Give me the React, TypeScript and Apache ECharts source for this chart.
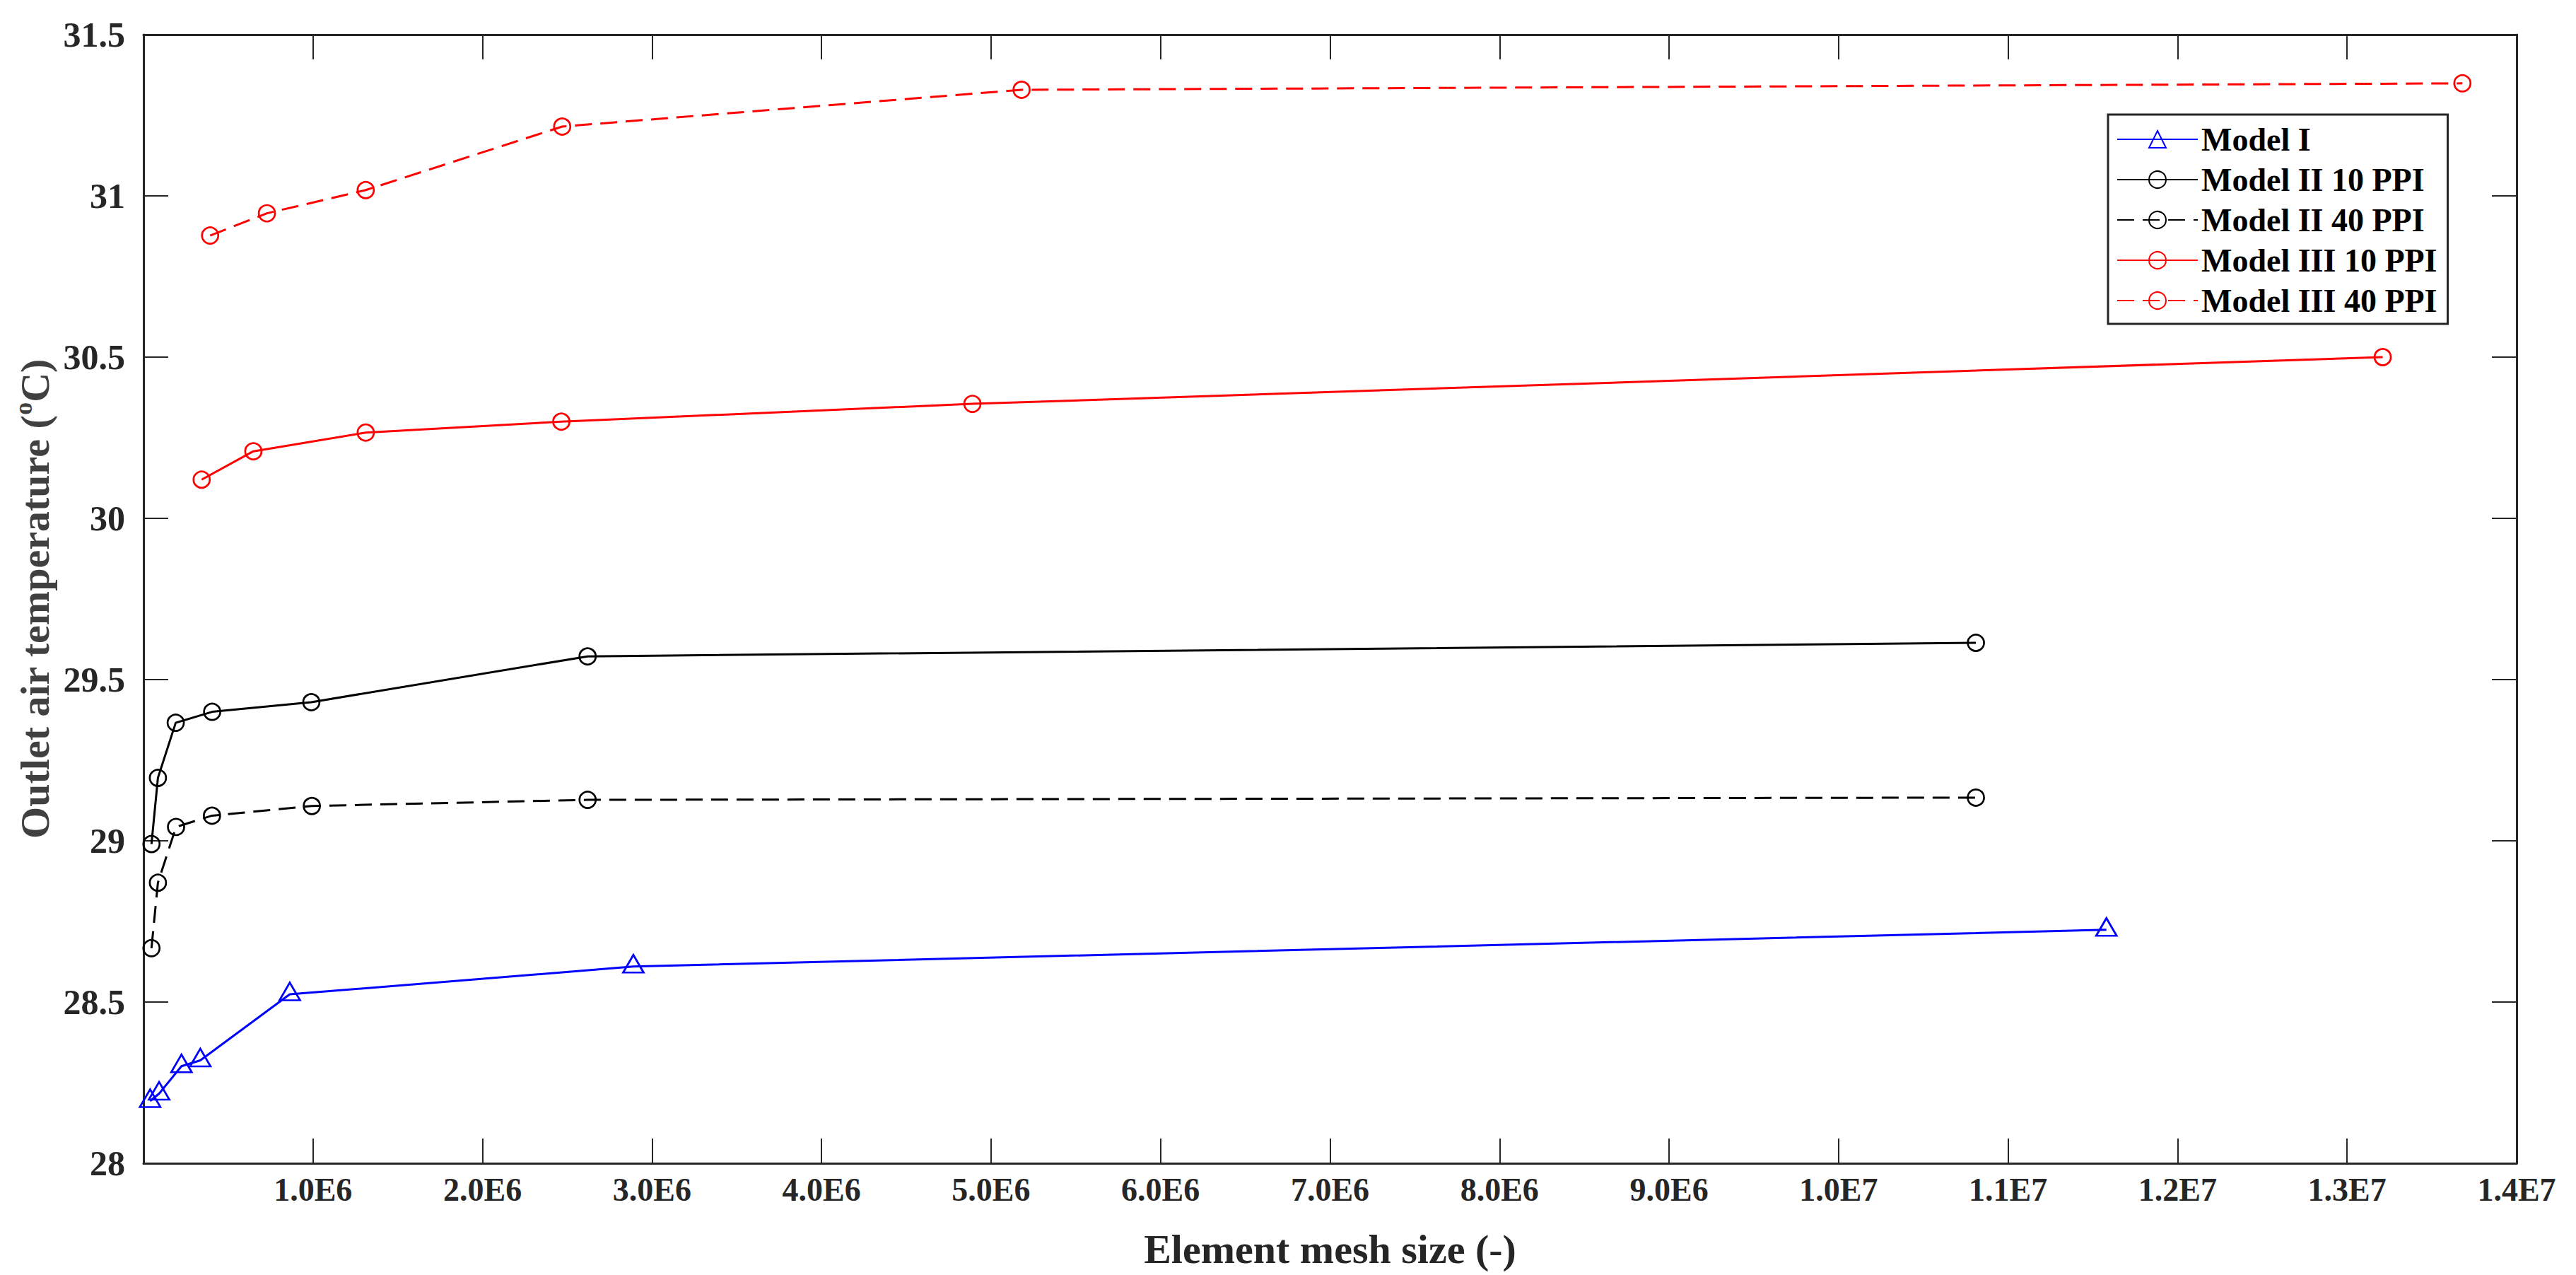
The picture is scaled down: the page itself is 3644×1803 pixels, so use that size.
import React, { useEffect, useRef } from "react";
import * as echarts from "echarts";

// ---- Data ----
const seriesNames = [
  "Model I",
  "Model II 10 PPI",
  "Model II 40 PPI",
  "Model III 10 PPI",
  "Model III 40 PPI",
];

const modelIX = [39000, 92000, 224000, 335000, 863000, 2890000, 11580000];
const modelIY = [28.193, 28.216, 28.301, 28.319, 28.524, 28.61, 28.724];

const modelII10X = [47000, 85000, 190000, 405000, 990000, 2620000, 10810000];
const modelII10Y = [28.99, 29.195, 29.366, 29.4, 29.43, 29.572, 29.614];

const modelII40X = [47000, 85000, 192000, 404000, 993000, 2620000, 10810000];
const modelII40Y = [28.667, 28.87, 29.043, 29.078, 29.108, 29.127, 29.134];

const modelIII10X = [343000, 648000, 1311000, 2465000, 4890000, 13210000];
const modelIII10Y = [30.12, 30.208, 30.266, 30.3, 30.355, 30.5];

const modelIII40X = [393000, 728000, 1311000, 2470000, 5180000, 13680000];
const modelIII40Y = [30.877, 30.946, 31.018, 31.215, 31.329, 31.349];

const xTickLabels = [
  "",
  "1.0E6",
  "2.0E6",
  "3.0E6",
  "4.0E6",
  "5.0E6",
  "6.0E6",
  "7.0E6",
  "8.0E6",
  "9.0E6",
  "1.0E7",
  "1.1E7",
  "1.2E7",
  "1.3E7",
  "1.4E7",
];
const yTickLabels = ["28", "28.5", "29", "29.5", "30", "30.5", "31", "31.5"];

const FONT = "'Liberation Serif', 'Times New Roman', serif";
const AXIS_COLOR = "#262626";

const zip = (xs: number[], ys: number[]) => xs.map((x, i) => [x, ys[i]]);

const lineSeries = (
  name: string,
  xs: number[],
  ys: number[],
  color: string,
  dashed: boolean,
  triangle: boolean
) => ({
  name,
  type: "line",
  data: zip(xs, ys),
  showSymbol: true,
  showAllSymbol: true,
  symbol: triangle ? "triangle" : "circle",
  symbolSize: triangle ? [29, 25] : 23,
  symbolOffset: triangle ? [0, -4] : [0, 0],
  lineStyle: {
    color,
    width: 3,
    type: dashed ? [24, 12] : "solid",
  },
  itemStyle: {
    color: "rgba(0,0,0,0)",
    borderColor: color,
    borderWidth: 2.7,
  },
  emphasis: { disabled: true },
  z: 3,
});

const option = {
  animation: false,
  backgroundColor: "#ffffff",
  grid: {
    left: 203,
    right: 84,
    top: 49,
    bottom: 158,
    containLabel: false,
  },
  legend: {
    show: true,
    orient: "vertical",
    left: 2982,
    top: 162,
    padding: [12, 15, 10, 12],
    itemWidth: 114,
    itemHeight: 30,
    itemGap: 11,
    backgroundColor: "#ffffff",
    borderColor: AXIS_COLOR,
    borderWidth: 3,
    borderRadius: 0,
    data: seriesNames,
    textStyle: {
      fontFamily: FONT,
      fontWeight: "bold",
      fontSize: 46,
      color: "#000000",
    },
  },
  xAxis: [
    {
      type: "value",
      position: "bottom",
      min: 0,
      max: 14000000,
      interval: 1000000,
      name: "Element mesh size (-)",
      nameLocation: "middle",
      nameGap: 92,
      nameTextStyle: {
        fontFamily: FONT,
        fontWeight: "bold",
        fontSize: 58,
        color: AXIS_COLOR,
      },
      axisLine: { show: true, onZero: false, lineStyle: { color: AXIS_COLOR, width: 3 } },
      axisTick: { show: true, inside: true, length: 35, lineStyle: { color: AXIS_COLOR, width: 2 } },
      axisLabel: {
        show: true,
        margin: 14,
        fontFamily: FONT,
        fontWeight: "bold",
        fontSize: 46,
        color: AXIS_COLOR,
        formatter: (v: number) => xTickLabels[Math.round(v / 1000000)] ?? "",
      },
      splitLine: { show: false },
    },
    {
      type: "value",
      position: "top",
      min: 0,
      max: 14000000,
      interval: 1000000,
      axisLine: { show: true, onZero: false, lineStyle: { color: AXIS_COLOR, width: 3 } },
      axisTick: { show: true, inside: true, length: 35, lineStyle: { color: AXIS_COLOR, width: 2 } },
      axisLabel: { show: false },
      splitLine: { show: false },
    },
  ],
  yAxis: [
    {
      type: "value",
      position: "left",
      min: 28,
      max: 31.5,
      interval: 0.5,
      name: "{a|Outlet air temperature (}{s|o}{a|C)}",
      nameLocation: "middle",
      nameGap: 120,
      nameRotate: 90,
      nameTextStyle: {
        fontFamily: FONT,
        fontWeight: "bold",
        fontSize: 58,
        color: "#404040",
        rich: {
          a: {
            fontFamily: FONT,
            fontWeight: "bold",
            fontSize: 58,
            color: "#404040",
            lineHeight: 64,
            verticalAlign: "bottom",
          },
          s: {
            fontFamily: FONT,
            fontWeight: "bold",
            fontSize: 36,
            color: "#404040",
            lineHeight: 64,
            verticalAlign: "top",
          },
        },
      },
      axisLine: { show: true, onZero: false, lineStyle: { color: AXIS_COLOR, width: 3 } },
      axisTick: { show: true, inside: true, length: 35, lineStyle: { color: AXIS_COLOR, width: 2 } },
      axisLabel: {
        show: true,
        margin: 26,
        fontFamily: FONT,
        fontWeight: "bold",
        fontSize: 50,
        color: AXIS_COLOR,
        formatter: (v: number) => yTickLabels[Math.round((v - 28) / 0.5)] ?? "",
      },
      splitLine: { show: false },
    },
    {
      type: "value",
      position: "right",
      min: 28,
      max: 31.5,
      interval: 0.5,
      axisLine: { show: true, onZero: false, lineStyle: { color: AXIS_COLOR, width: 3 } },
      axisTick: { show: true, inside: true, length: 35, lineStyle: { color: AXIS_COLOR, width: 2 } },
      axisLabel: { show: false },
      splitLine: { show: false },
    },
  ],
  series: [
    lineSeries(seriesNames[0], modelIX, modelIY, "#0000ff", false, true),
    lineSeries(seriesNames[1], modelII10X, modelII10Y, "#000000", false, false),
    lineSeries(seriesNames[2], modelII40X, modelII40Y, "#000000", true, false),
    lineSeries(seriesNames[3], modelIII10X, modelIII10Y, "#ff0000", false, false),
    lineSeries(seriesNames[4], modelIII40X, modelIII40Y, "#ff0000", true, false),
  ],
};

export default function App() {
  const ref = useRef<HTMLDivElement>(null);
  useEffect(() => {
    if (!ref.current) return;
    const chart = echarts.init(ref.current, null, { renderer: "svg" });
    chart.setOption(option as any);
    return () => {
      chart.dispose();
    };
  }, []);
  return (
    <div
      ref={ref}
      style={{
        position: "fixed",
        left: 0,
        top: 0,
        width: 3644,
        height: 1803,
        background: "#ffffff",
      }}
    />
  );
}
